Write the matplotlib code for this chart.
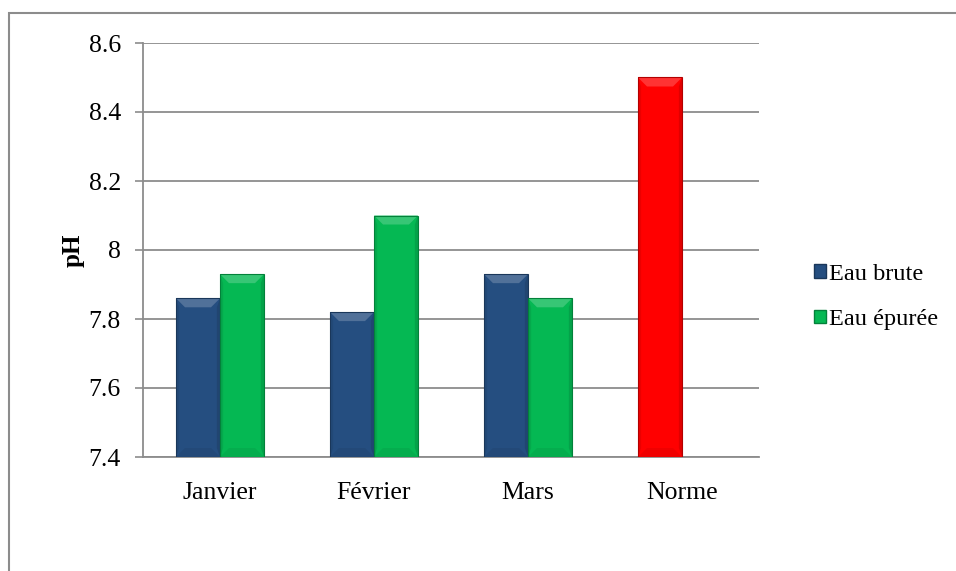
import matplotlib
matplotlib.use("Agg")
import matplotlib.pyplot as plt
from matplotlib.patches import Polygon, Rectangle, Patch
import numpy as np

# Data
categories = ["Janvier", "Février", "Mars", "Norme"]
eau_brute = [7.86, 7.82, 7.93, 8.50]
eau_epuree = [7.93, 8.10, 7.86, None]
series_names = ["Eau brute", "Eau épurée"]
yticks = [7.4, 7.6, 7.8, 8.0, 8.2, 8.4, 8.6]
ytick_labels = ["7.4", "7.6", "7.8", "8", "8.2", "8.4", "8.6"]

BLUE = "#254E80"
GREEN = "#05B853"
RED = "#FF0000"

def shade(color, f):
    c = np.array(matplotlib.colors.to_rgb(color))
    if f >= 0:
        c = c + (1 - c) * f
    else:
        c = c * (1 + f)
    return tuple(np.clip(c, 0, 1))

plt.rcParams["font.family"] = ["Liberation Serif", "DejaVu Serif"]

W, H = 956, 571
fig = plt.figure(figsize=(W / 100, H / 100), dpi=100)
ax = fig.add_axes([143 / W, 1 - 457 / H, (759 - 143) / W, (457 - 43) / H])

# Outer frame of the chart area
fig.patches.append(Rectangle((9 / W, -0.1), 1.2, (H - 13) / H + 0.1,
                             transform=fig.transFigure, fill=False,
                             edgecolor="#8C8C8C", linewidth=1.5, zorder=0))

x = np.arange(len(categories))
bw = 1 / 3.5
base = yticks[0]

b1_vals = [v - base for v in eau_brute]
b2_idx = [i for i, v in enumerate(eau_epuree) if v is not None]
b2_vals = [eau_epuree[i] - base for i in b2_idx]

colors1 = [BLUE] * (len(categories) - 1) + [RED]
bars1 = ax.bar(x - bw / 2, b1_vals, bw, bottom=base, color=colors1,
               edgecolor="none", zorder=3, label=series_names[0])
bars2 = ax.bar(np.array(b2_idx) + bw / 2, b2_vals, bw, bottom=base, color=GREEN,
               edgecolor="none", zorder=3, label=series_names[1])

# Bevel effect on each bar
ypx = (457 - 43) / (yticks[-1] - yticks[0])
xpx = (759 - 143) / len(categories)
dy = 9 / ypx
dx = 9 / xpx
for bars in (bars1, bars2):
    for p in bars.patches:
        c = p.get_facecolor()
        x0, y0 = p.get_x(), p.get_y()
        w, h = p.get_width(), p.get_height()
        top = y0 + h
        ax.add_patch(Polygon([(x0, top), (x0 + w, top), (x0 + w - dx, top - dy),
                              (x0 + dx, top - dy)], closed=True,
                             facecolor=shade(c, 0.2), edgecolor="none", zorder=4))
        ax.add_patch(Polygon([(x0, y0), (x0 + w, y0), (x0 + w - dx, y0 + dy),
                              (x0 + dx, y0 + dy)], closed=True,
                             facecolor=shade(c, -0.06), edgecolor="none", zorder=4))
        ax.add_patch(Polygon([(x0 + w, top), (x0 + w, y0), (x0 + w - dx * 0.35, y0 + dy),
                              (x0 + w - dx * 0.35, top - dy)], closed=True,
                             facecolor=shade(c, -0.12), edgecolor="none", zorder=4))
        ax.add_patch(Polygon([(x0, top), (x0, y0), (x0 + dx * 0.35, y0 + dy),
                              (x0 + dx * 0.35, top - dy)], closed=True,
                             facecolor=shade(c, -0.08), edgecolor="none", zorder=4))
        ax.add_patch(Rectangle((x0, y0), w, h, fill=False,
                               edgecolor=shade(c, -0.3), linewidth=0.8, zorder=5))

ax.set_xlim(-0.5, len(categories) - 0.5)
ax.set_ylim(yticks[0], yticks[-1])
ax.set_yticks(yticks)
ax.set_yticklabels(ytick_labels, fontsize=18.5)
ax.set_xticks(x)
ax.set_xticklabels(categories, fontsize=18.5)
ax.tick_params(axis="x", length=0, pad=18)
ax.tick_params(axis="y", length=6, width=1.2, color="#8C8C8C", pad=10)
ax.yaxis.grid(True, color="#8C8C8C", linewidth=1.3, zorder=0)
ax.set_axisbelow(True)
for s in ("top", "right"):
    ax.spines[s].set_visible(False)
for s in ("left", "bottom"):
    ax.spines[s].set_color("#8C8C8C")
    ax.spines[s].set_linewidth(1.3)

ax.set_ylabel("pH", fontsize=18, fontweight="bold", labelpad=3)

handles = [Patch(facecolor=BLUE, edgecolor=shade(BLUE, -0.3)),
           Patch(facecolor=GREEN, edgecolor=shade(GREEN, -0.3))]
leg = fig.legend(handles, series_names, loc="center left",
                 bbox_to_anchor=(804 / W, 1 - 297 / H), frameon=False,
                 fontsize=17.5, handlelength=0.5, handleheight=0.5,
                 handletextpad=0.12, labelspacing=1.0, borderaxespad=0)

fig.savefig("out.png", dpi=100)
